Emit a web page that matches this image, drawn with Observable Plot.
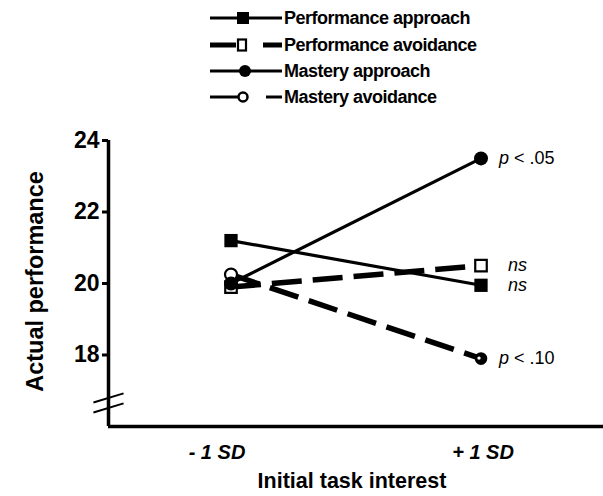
<!DOCTYPE html>
<html>
<head>
<meta charset="utf-8">
<script src="https://cdn.jsdelivr.net/npm/d3@7"></script>
<script src="https://cdn.jsdelivr.net/npm/@observablehq/plot@0.6"></script>
<style>
  html, body { margin: 0; padding: 0; background: #fff; }
  #wrap { width: 603px; height: 496px; position: relative; font-family: "Liberation Sans", Arial, sans-serif; }
  #legend { position: relative; height: 118px; }
  .lrow { position: absolute; left: 208px; height: 20px; display: flex; align-items: center; }
  .lrow span { font-weight: bold; font-size: 18px; letter-spacing: -0.5px; color: #000; margin-left: 0px; }
  svg.plot text { fill: #000; }
</style>
</head>
<body>
<div id="wrap">
  <div id="legend"></div>
  <div id="chart"></div>
</div>
<script>
// ---- data ----
const groups = ["Performance approach", "Performance avoidance", "Mastery approach", "Mastery avoidance"];
const interest = [-1, 1];
const interestLabels = ["- 1 SD", "+ 1 SD"];
const perfApproach = [21.2, 19.95];
const perfAvoidance = [19.9, 20.5];
const masteryApproach = [20.0, 23.5];
const masteryAvoidance = [20.25, 17.9];
const pGroups = ["Mastery approach", "Performance avoidance", "Performance approach", "Mastery avoidance"];
const pItalicText = ["p", "ns", "ns", "p"];
const pRestText = ["< .05", "", "", "< .10"];
const yTicks = [18, 20, 22, 24];
const breakValues = [16.52, 16.8];

const seriesValues = [perfApproach, perfAvoidance, masteryApproach, masteryAvoidance];
const rows = [];
groups.forEach((g, i) => interest.forEach((x, j) => rows.push({group: g, x, y: seriesValues[i][j]})));
const endRows = pGroups.map((g, i) => ({group: g, x: 1, y: seriesValues[groups.indexOf(g)][1], it: pItalicText[i], rest: pRestText[i]}));

const style = {
  "Performance approach": {dash: null, width: 3.2, symbol: "square", fill: "black"},
  "Performance avoidance": {dash: "30,11", width: 5.5, symbol: "square", fill: "white"},
  "Mastery approach": {dash: null, width: 3.2, symbol: "circle", fill: "black"},
  "Mastery avoidance": {dash: "30,11", width: 5.5, symbol: "circle", fill: "white"}
};

// ---- legend (HTML) ----
const legend = document.getElementById("legend");
const legendSwatch = {
  "Performance approach": `<line x1="2" y1="10" x2="74" y2="10" stroke="#000" stroke-width="3"/><rect x="29" y="4" width="12" height="12" fill="#000"/>`,
  "Performance avoidance": `<line x1="2" y1="10" x2="28" y2="10" stroke="#000" stroke-width="5"/><rect x="30" y="4.5" width="8" height="11" fill="#fff" stroke="#000" stroke-width="2.2"/><line x1="55" y1="10" x2="74" y2="10" stroke="#000" stroke-width="5"/>`,
  "Mastery approach": `<line x1="2" y1="10" x2="74" y2="10" stroke="#000" stroke-width="3"/><circle cx="37" cy="10" r="6" fill="#000"/>`,
  "Mastery avoidance": `<line x1="2" y1="10" x2="30" y2="10" stroke="#000" stroke-width="3"/><circle cx="35" cy="10" r="4.5" fill="#fff" stroke="#000" stroke-width="2.5"/><line x1="58" y1="10" x2="74" y2="10" stroke="#000" stroke-width="3"/>`
};
const legendY = [8, 35, 61, 87];
groups.forEach((g, i) => {
  const d = document.createElement("div");
  d.className = "lrow";
  d.style.top = legendY[i] + "px";
  d.innerHTML = `<svg width="76" height="20">${legendSwatch[g]}</svg><span>${g}</span>`;
  legend.appendChild(d);
});

// custom axis-break symbol
const slash = {draw(ctx, size) { const r = Math.sqrt(size); ctx.moveTo(-r, r * 0.3); ctx.lineTo(r, -r * 0.3); }};
const xDomain = [-1.98, 1.98];

const marks = [];
groups.forEach(g => {
  marks.push(Plot.line(rows.filter(r => r.group === g), {
    x: "x", y: "y", stroke: "black", strokeWidth: style[g].width,
    strokeDasharray: style[g].dash || undefined, strokeLinecap: "butt"
  }));
});
["Performance avoidance", "Mastery avoidance", "Performance approach", "Mastery approach"].forEach(g => {
  const s = style[g];
  const data = rows.filter(r => r.group === g);
  if (s.symbol === "square") {
    marks.push(Plot.dot(data, {x: "x", y: "y", symbol: "square", r: s.fill === "black" ? 7.5 : 6.5, fill: s.fill, stroke: "black", strokeWidth: s.fill === "black" ? 0 : 2.2}));
  } else if (g === "Mastery avoidance") {
    marks.push(Plot.dot(data.filter(d => d.x === -1), {x: "x", y: "y", r: 6, fill: "white", stroke: "black", strokeWidth: 2.2}));
    marks.push(Plot.dot(data.filter(d => d.x === 1), {x: "x", y: "y", r: 6.3, fill: "black"}));
    marks.push(Plot.dot(data.filter(d => d.x === 1), {x: "x", y: "y", r: 1.7, dx: -2, dy: -0.5, fill: "white"}));
  } else {
    marks.push(Plot.dot(data, {x: "x", y: "y", r: 7, fill: "black"}));
  }
});

const chart = Plot.plot({
  width: 603,
  height: 378,
  marginLeft: 108,
  marginRight: 0,
  marginTop: 22,
  marginBottom: 70,
  style: {fontFamily: "'Liberation Sans', Arial, sans-serif", background: "white", color: "black", overflow: "visible"},
  x: {domain: xDomain},
  y: {domain: [16, 24]},
  marks: [
    Plot.axisY({ticks: yTicks, tickSize: 6, tickPadding: 3, fontSize: 23, fontWeight: "bold", label: null, strokeWidth: 3}),
    Plot.axisX([interest[0]], {tickSize: 0, tickPadding: 18, dx: -14, tickFormat: () => interestLabels[0], fontSize: 20, fontWeight: "bold", fontStyle: "italic", label: null}),
    Plot.axisX([interest[1]], {tickSize: 0, tickPadding: 18, dx: 2, tickFormat: () => interestLabels[1], fontSize: 20, fontWeight: "bold", fontStyle: "italic", label: null}),
    Plot.ruleX([xDomain[0]], {y1: 16, y2: 24, strokeWidth: 3.5}),
    Plot.ruleY([16], {strokeWidth: 3.5}),
    Plot.dot(breakValues, {x: () => xDomain[0], y: d => d, symbol: slash, r: 8.5, stroke: "black", strokeWidth: 2, fill: "none"}),
    ...marks,
    Plot.text(endRows.filter(d => d.it === "p"), {x: "x", y: "y", text: "it", textAnchor: "start", dx: 18, fontStyle: "italic", fontSize: 18}),
    Plot.text(endRows.filter(d => d.it === "ns"), {x: "x", y: "y", text: "it", textAnchor: "start", dx: 27, fontStyle: "italic", fontSize: 18}),
    Plot.text(endRows.filter(d => d.rest), {x: "x", y: "y", text: "rest", textAnchor: "start", dx: 33, fontSize: 18}),
    Plot.text(["Actual performance"], {frameAnchor: "left", textAnchor: "middle", dx: -73, dy: -2, rotate: -90, fontSize: 23.5, fontWeight: "bold", letterSpacing: "-0.2px"}),
    Plot.text(["Initial task interest"], {frameAnchor: "bottom", textAnchor: "middle", lineAnchor: "middle", dy: 55, dx: -4, fontSize: 21.5, fontWeight: "bold", letterSpacing: "-0.4px"})
  ]
});
document.getElementById("chart").appendChild(chart);
</script>
</body>
</html>
